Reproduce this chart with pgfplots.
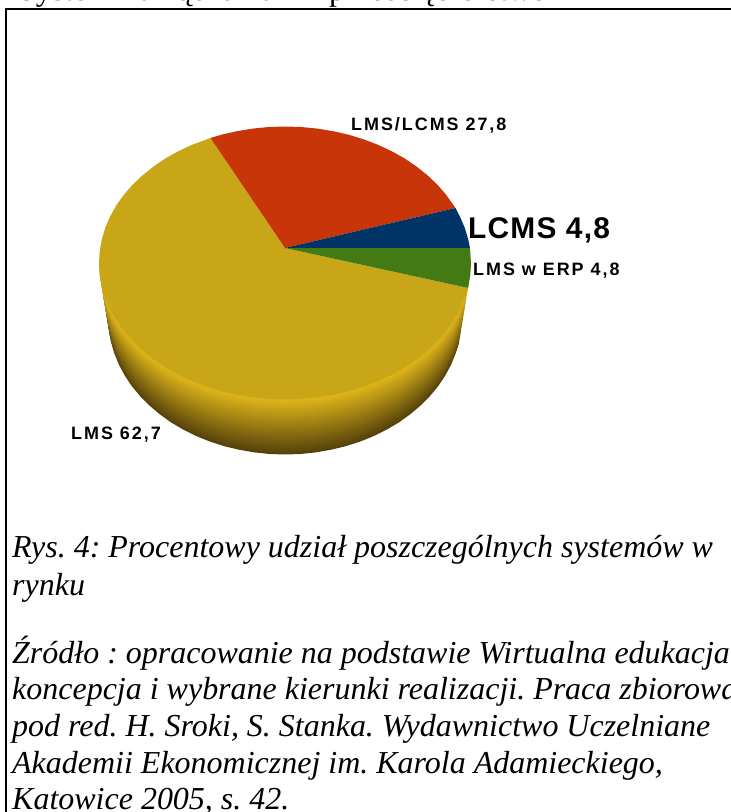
\documentclass[border=0pt]{standalone}
\usepackage{pgfplots}
\pgfplotsset{compat=1.18}
\usepackage{pgfplotstable}
\usepackage{fontspec}
\setmainfont{Liberation Serif}
\frenchspacing
\newfontfamily\lab{Liberation Sans}[LetterSpace=4]
\newfontfamily\labw{Liberation Sans}[LetterSpace=11]
\definecolor{cY}{HTML}{C9A618}
\definecolor{cR}{HTML}{C83508}
\definecolor{cB}{HTML}{003366}
\definecolor{cG}{HTML}{437A14}
\definecolor{sideL}{HTML}{E2B91A}
\definecolor{sideD}{HTML}{57430A}
% outline of the yellow slice (LMS 62,7)
\pgfplotstableread{
x y
285 248
210.5 138
192 144.8
178.3 151.2
165.4 158.4
153.5 166.5
142.5 175.3
132.6 184.7
123.9 194.7
116.4 205.3
110.2 216.3
105.3 227.7
101.8 239.3
99.7 251.1
99 263
99.7 274.9
101.8 286.7
105.3 298.3
110.2 309.7
116.4 320.7
123.9 331.3
132.6 341.3
142.5 350.7
153.5 359.5
165.4 367.6
178.3 374.8
192 381.2
206.4 386.7
221.4 391.3
236.9 394.8
252.7 397.4
268.8 399
285 399.5
301.2 399
317.3 397.4
333.1 394.8
348.6 391.3
363.6 386.7
378 381.2
391.7 374.8
404.6 367.6
416.5 359.5
427.5 350.7
437.4 341.3
446.1 331.3
453.6 320.7
459.8 309.7
464.7 298.3
468.2 288
}\lmsdata
\pgfplotstableread{
x y
285 248
455.5 208
446.1 194.7
437.4 184.7
427.5 175.3
416.5 166.5
404.6 158.4
391.7 151.2
378 144.8
363.6 139.3
348.6 134.7
333.1 131.2
317.3 128.6
301.2 127
285 126.5
268.8 127
252.7 128.6
236.9 131.2
221.4 134.7
210.5 138
}\mixdata
\pgfplotstableread{
x y
285 248
470 248
468.2 239.3
464.7 227.7
459.8 216.3
455.5 208
}\lcmsdata
\pgfplotstableread{
x y
285 248
468.2 288
470.3 274.9
471 263
470 248
}\erpdata
\pgfplotstableread{
x y
99 263
99.7 274.9
101.8 286.7
105.3 298.3
110.2 309.7
116.4 320.7
123.9 331.3
132.6 341.3
142.5 350.7
153.5 359.5
165.4 367.6
178.3 374.8
192 381.2
206.4 386.7
221.4 391.3
236.9 394.8
252.7 397.4
268.8 399
285 399.5
301.2 399
317.3 397.4
333.1 394.8
348.6 391.3
363.6 386.7
378 381.2
391.7 374.8
404.6 367.6
416.5 359.5
427.5 350.7
437.4 341.3
446.1 331.3
453.6 320.7
459.8 309.7
464.7 298.3
468.2 288
}\frontdata
\begin{document}
\begin{tikzpicture}
\path[use as bounding box,clip] (0,0) rectangle (731bp,812bp);
\begin{axis}[
  at={(0,0)},anchor=south west,
  scale only axis,width=731bp,height=812bp,
  xmin=0,xmax=731,ymin=0,ymax=812,y dir=reverse,
  hide axis,clip=false]
\pgfplotsinvokeforeach{0,4,...,100}{
  \addplot[fill=sideL!#1!sideD,draw=none,
    x filter/.expression={285+(x-285)*(1-0.05*(1-#1/100))},
    y filter/.expression={y+55*(1-#1/100)}] table {\frontdata} -- cycle;
}
\addplot[fill=cY,draw=none] table {\lmsdata} -- cycle;
\addplot[fill=cR,draw=none] table {\mixdata} -- cycle;
\addplot[fill=cB,draw=none] table {\lcmsdata} -- cycle;
\addplot[fill=cG,draw=none] table {\erpdata} -- cycle;
\addplot[black,line width=1.4bp] coordinates {(6,812) (6,9) (731,9)};
\node[anchor=base west,inner sep=0pt,font=\labw\bfseries\fontsize{18}{18}\selectfont] at (axis cs:351,131) {LMS/LCMS 27,8};
\node[anchor=base west,inner sep=0pt,font=\lab\bfseries\fontsize{30}{30}\selectfont] at (axis cs:468,238) {LCMS 4,8};
\node[anchor=base west,inner sep=0pt,font=\labw\bfseries\fontsize{18}{18}\selectfont] at (axis cs:473,275) {LMS w ERP 4,8};
\node[anchor=base west,inner sep=0pt,font=\labw\bfseries\fontsize{18}{18}\selectfont] at (axis cs:71,439) {LMS 62,7};
\node[anchor=base west,inner sep=0pt,font=\fontsize{32}{32}\selectfont] at (axis cs:18,1) {System};
\node[anchor=base west,inner sep=0pt,font=\fontsize{32}{32}\selectfont] at (axis cs:125,1) {zarządzania};
\node[anchor=base west,inner sep=0pt,font=\fontsize{32}{32}\selectfont] at (axis cs:329,1) {przedsiębiorstwem};
\node[anchor=base west,inner sep=0pt,font=\itshape\fontsize{32.1}{32}\selectfont] at (axis cs:12,557) {Rys. 4: Procentowy udział poszczególnych systemów w};
\node[anchor=base west,inner sep=0pt,font=\itshape\fontsize{32.1}{32}\selectfont] at (axis cs:12,595) {rynku};
\node[anchor=base west,inner sep=0pt,font=\itshape\fontsize{32.1}{32}\selectfont] at (axis cs:12,663) {Źródło : opracowanie na podstawie Wirtualna edukacja :};
\node[anchor=base west,inner sep=0pt,font=\itshape\fontsize{32.1}{32}\selectfont] at (axis cs:12,699) {koncepcja i wybrane kierunki realizacji. Praca zbiorowa};
\node[anchor=base west,inner sep=0pt,font=\itshape\fontsize{32.1}{32}\selectfont] at (axis cs:12,736) {pod red. H. Sroki, S. Stanka. Wydawnictwo Uczelniane};
\node[anchor=base west,inner sep=0pt,font=\itshape\fontsize{32.1}{32}\selectfont] at (axis cs:12,773) {Akademii Ekonomicznej im. Karola Adamieckiego,};
\node[anchor=base west,inner sep=0pt,font=\itshape\fontsize{32.1}{32}\selectfont] at (axis cs:12,809) {Katowice 2005, s. 42.};
\end{axis}
\end{tikzpicture}
\end{document}
